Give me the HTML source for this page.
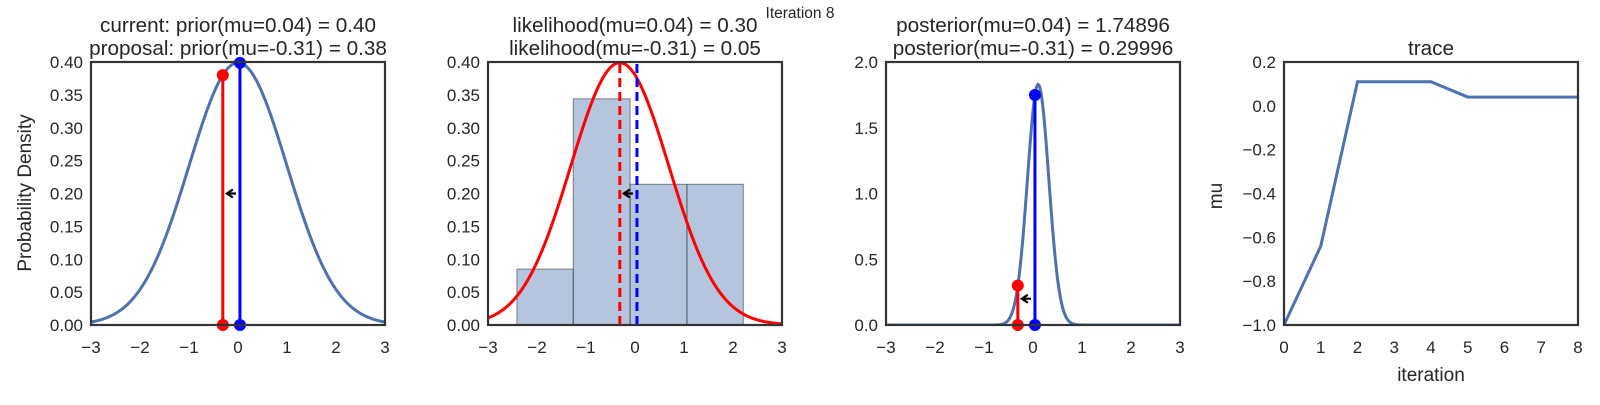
<!DOCTYPE html>
<html><head><meta charset="utf-8"><style>
html,body{margin:0;padding:0;background:#fff;}
svg text{font-family:"Liberation Sans","DejaVu Sans",sans-serif;fill:#262626;}
</style></head><body>
<svg id="fig" width="1600" height="400" viewBox="0 0 1600 400" xmlns="http://www.w3.org/2000/svg"></svg>
<script>
// ---- data ----
const currentMu = [0.04];
const proposalMu = [-0.31];
const priorParams = [0, 1];            // mean, sd
const likeParams = [-0.31, 1];
const postParams = [0.105, 0.218];
const priorVals = [0.40, 0.38];
const postVals = [1.74896, 0.29996];
const histEdges = [-2.41, -1.26, -0.10, 1.06, 2.21];
const histHeights = [0.085, 0.344, 0.214, 0.214];
const traceIter = [0,1,2,3,4,5,6,7,8];
const traceMu = [-1.0, -0.64, 0.11, 0.11, 0.11, 0.04, 0.04, 0.04, 0.04];
const xTicksMu = [-3,-2,-1,0,1,2,3];
const yTicks1 = ["0.00","0.05","0.10","0.15","0.20","0.25","0.30","0.35","0.40"];
const yTicks3 = ["0.0","0.5","1.0","1.5","2.0"];
const yTicks4 = ["−1.0","−0.8","−0.6","−0.4","−0.2","0.0","0.2"];
const yTicks4v = [-1,-0.8,-0.6,-0.4,-0.2,0,0.2];
const xTicks4 = [0,1,2,3,4,5,6,7,8];

const NS="http://www.w3.org/2000/svg";
const svg=document.getElementById('fig');
function mk(tag,attrs,parent){const e=document.createElementNS(NS,tag);for(const k in attrs)e.setAttribute(k,attrs[k]);(parent||svg).appendChild(e);return e;}
function pdf(x,m,s){return Math.exp(-0.5*((x-m)/s)**2)/(s*Math.sqrt(2*Math.PI));}
const T=62,B=325,PW=294;
const TS=20.7, KS=17;
const lefts=[91,488,886,1284];
function axis(i,x0,x1,y0,y1){const L=lefts[i];return {X:v=>L+(v-x0)/(x1-x0)*PW,Y:v=>B-(v-y0)/(y1-y0)*(B-T),L:L};}
function frame(g,L){const r=mk('rect',{x:L,y:T,width:PW,height:B-T,fill:'none',stroke:'#333',"stroke-width":2.2},g);}
function txt(g,x,y,s,size,anchor,name,extra){const t=mk('text',Object.assign({x:x,y:y,"font-size":size,"text-anchor":anchor||'middle'},extra||{}),g);t.textContent=s;return t;}
function xticks(g,ax,vals,labels){vals.forEach((v,k)=>{txt(g,ax.X(v),353,labels?labels[k]:(v<0?'−'+(-v):String(v)),KS,'middle','x-tick-label');});}
function yticks(g,ax,vals,labels){vals.forEach((v,k)=>{txt(g,ax.L-8,ax.Y(v)+6,labels[k],KS,'end','y-tick-label');});}
function curve(g,ax,f,color,w,name){let d='';for(let i=0;i<=300;i++){const x=-3+6*i/300;d+=(i?'L':'M')+ax.X(x).toFixed(2)+','+ax.Y(f(x)).toFixed(2);}const p=mk('path',{d:d,fill:'none',stroke:color,"stroke-width":w},g);}
function stem(g,ax,x,y,color,name){const l=mk('line',{x1:ax.X(x),x2:ax.X(x),y1:ax.Y(0),y2:ax.Y(y),stroke:color,"stroke-width":3},g);
 [0,y].forEach(v=>{const c=mk('circle',{cx:ax.X(x),cy:ax.Y(v),r:6,fill:color},g);});}
function arrow(g,ax,from,to,y){const x1=ax.X(from)-4,x2=ax.X(to)+4,yy=ax.Y(y);const a=mk('path',{d:`M${x1},${yy}L${x2},${yy}M${x2+6},${yy-4}L${x2},${yy}L${x2+6},${yy+4}`,stroke:'#000',"stroke-width":2.2,fill:'none'},g);}
function clip(id,L){const c=mk('clipPath',{id:id});mk('rect',{x:L,y:T,width:PW,height:B-T},c);}

// Panel 1: prior
{const g=mk('g',{});
 const ax=axis(0,-3,3,0,0.4);clip('c1',ax.L);const gc=mk('g',{"clip-path":'url(#c1)'},g);
 curve(gc,ax,x=>pdf(x,priorParams[0],priorParams[1]),'#4C72B0',3,'prior-curve');
 stem(g,ax,proposalMu[0],priorVals[1],'#ff0000','proposal');
 stem(g,ax,currentMu[0],pdf(currentMu[0],0,1),'#0000ff','current');
 arrow(g,ax,currentMu[0],proposalMu[0],0.2);
 frame(g,ax.L);xticks(g,ax,xTicksMu);yticks(g,ax,yTicks1.map(Number),yTicks1);
 txt(g,ax.L+PW/2,32,'current: prior(mu='+currentMu[0].toFixed(2)+') = '+priorVals[0].toFixed(2),TS,'middle','prior-title-line1');
 txt(g,ax.L+PW/2,55,'proposal: prior(mu='+proposalMu[0].toFixed(2)+') = '+priorVals[1].toFixed(2),TS,'middle','prior-title-line2');
 txt(g,31,193,'Probability Density',19,'middle','y-axis-title',{transform:'rotate(-90 31 193)'});}

// Panel 2: likelihood
{const g=mk('g',{});
 const ax=axis(1,-3,3,0,0.4);clip('c2',ax.L);const gc=mk('g',{"clip-path":'url(#c2)'},g);
 histHeights.forEach((h,k)=>{const r=mk('rect',{x:ax.X(histEdges[k]),y:ax.Y(h),width:ax.X(histEdges[k+1])-ax.X(histEdges[k]),height:ax.Y(0)-ax.Y(h),fill:'rgba(76,114,176,0.41)',stroke:'rgba(60,60,60,0.6)',"stroke-width":1},gc);});
 curve(gc,ax,x=>pdf(x,likeParams[0],likeParams[1]),'#ff0000',3,'likelihood-curve');
 [[proposalMu[0],'#ff0000','proposal-dashed-line'],[currentMu[0],'#0000ff','current-dashed-line']].forEach(([v,c,n])=>{const l=mk('line',{x1:ax.X(v),x2:ax.X(v),y1:ax.Y(0),y2:ax.Y(0.4),stroke:c,"stroke-width":3,"stroke-dasharray":'9,5'},gc);});
 arrow(g,ax,currentMu[0],proposalMu[0],0.2);
 frame(g,ax.L);xticks(g,ax,xTicksMu);yticks(g,ax,yTicks1.map(Number),yTicks1);
 txt(g,ax.L+PW/2,32,'likelihood(mu=0.04) = 0.30',TS,'middle','likelihood-title-line1');
 txt(g,ax.L+PW/2,55,'likelihood(mu=-0.31) = 0.05',TS,'middle','likelihood-title-line2');}

txt(svg,800,18,'Iteration 8',15.5,'middle','figure-suptitle');

// Panel 3: posterior
{const g=mk('g',{});
 const ax=axis(2,-3,3,0,2);clip('c3',ax.L);const gc=mk('g',{"clip-path":'url(#c3)'},g);
 curve(gc,ax,x=>pdf(x,postParams[0],postParams[1]),'#4C72B0',3,'posterior-curve');
 stem(g,ax,proposalMu[0],postVals[1],'#ff0000','proposal');
 stem(g,ax,currentMu[0],postVals[0],'#0000ff','current');
 arrow(g,ax,currentMu[0],proposalMu[0],0.2);
 frame(g,ax.L);xticks(g,ax,xTicksMu);yticks(g,ax,yTicks3.map(Number),yTicks3);
 txt(g,ax.L+PW/2,32,'posterior(mu=0.04) = '+postVals[0].toFixed(5),TS,'middle','posterior-title-line1');
 txt(g,ax.L+PW/2,55,'posterior(mu=-0.31) = '+postVals[1].toFixed(5),TS,'middle','posterior-title-line2');}

// Panel 4: trace
{const g=mk('g',{});
 const ax=axis(3,0,8,-1,0.2);
 const d=traceMu.map((v,k)=>(k?'L':'M')+ax.X(traceIter[k])+','+ax.Y(v)).join('');
 const p=mk('path',{d:d,fill:'none',stroke:'#4C72B0',"stroke-width":3},g);
 frame(g,ax.L);xticks(g,ax,xTicks4);yticks(g,ax,yTicks4v,yTicks4);
 txt(g,ax.L+PW/2,55,'trace',TS,'middle','trace-title');
 txt(g,ax.L+PW/2,381,'iteration',19,'middle','x-axis-title');
 txt(g,1222,196,'mu',19,'middle','y-axis-title',{transform:'rotate(-90 1222 196)'});}
</script>
</body></html>
